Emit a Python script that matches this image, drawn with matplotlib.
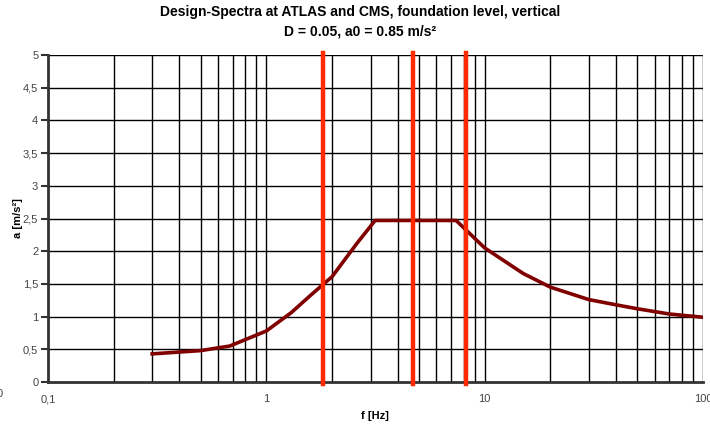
import matplotlib
matplotlib.use("Agg")
import matplotlib.pyplot as plt
from matplotlib.ticker import FixedLocator, NullLocator, FuncFormatter

plt.rcParams['font.family'] = ['Liberation Sans', 'DejaVu Sans']

freq = [0.3, 0.5, 0.68, 1.0, 1.3, 1.6, 2.0, 2.6, 3.15, 4.0, 5.0, 6.0, 7.4, 10.0, 15.0, 20.0, 30.0, 40.0, 50.0, 70.0, 100.0]
accel = [0.43, 0.48, 0.55, 0.78, 1.06, 1.33, 1.61, 2.12, 2.47, 2.47, 2.47, 2.47, 2.47, 2.05, 1.66, 1.45, 1.26, 1.18, 1.12, 1.04, 0.99]
red_lines = [1.81, 4.71, 8.22]
y_ticks = [0, 0.5, 1, 1.5, 2, 2.5, 3, 3.5, 4, 4.5, 5]
x_major = [0.1, 1, 10, 100]
x_labels = ["0,1", "1", "10", "100"]
x_minor = [m * d for d in (0.1, 1, 10) for m in range(2, 10)]

W, H = 710, 424
fig = plt.figure(figsize=(W / 100, H / 100), dpi=100)
ax = fig.add_axes([48 / W, (H - 382) / H, (703 - 48) / W, (382 - 55) / H])

ax.set_xscale('log')
ax.set_xlim(0.1, 100)
ax.set_ylim(0, 5)

for v in x_major[1:] + x_minor:
    ax.axvline(v, color='black', lw=1.0, zorder=1)
for v in y_ticks[1:]:
    ax.axhline(v, color='black', lw=1.0, zorder=1)

ax.plot(freq, accel, color='#800000', lw=2.6, zorder=3, solid_joinstyle='round')
for v in red_lines:
    ax.plot([v, v], [-0.03, 5.03], color='#FF2A00', lw=3.2, zorder=4, clip_on=False)

ax.xaxis.set_major_locator(FixedLocator(x_major))
ax.xaxis.set_minor_locator(NullLocator())
ax.set_xticklabels(x_labels)
ax.set_yticks(y_ticks)
ax.yaxis.set_major_formatter(FuncFormatter(lambda v, p: ('%g' % v).replace('.', ',')))

ax.tick_params(axis='x', length=0, pad=9, labelsize=8, labelcolor='#444444')
ax.tick_params(axis='y', length=5, width=1.5, color='#333333', pad=2, labelsize=8, labelcolor='#444444')

for s in ['top', 'right']:
    ax.spines[s].set_visible(False)
for s in ['left', 'bottom']:
    ax.spines[s].set_color('#333333')
    ax.spines[s].set_linewidth(2)
    ax.spines[s].set_zorder(2)

fig.text(375 / W, 1 - 416 / H, 'f [Hz]', ha='center', va='center', fontsize=8, fontweight='bold')
fig.text(18 / W, 1 - 218 / H, 'a [m/s²]', ha='center', va='center', rotation=90,
         fontsize=8, fontweight='bold')

fig.text(360 / W, 1 - 12 / H, 'Design-Spectra at ATLAS and CMS, foundation level, vertical',
         ha='center', va='center', fontsize=10, fontweight='bold')
fig.text(360 / W, 1 - 32 / H, 'D = 0.05, a0 = 0.85 m/s²',
         ha='center', va='center', fontsize=10, fontweight='bold')
fig.text(-3 / W, 1 - 394 / H, '0', ha='left', va='center', fontsize=8, color='#444444')

fig.savefig('out.png', dpi=100)
